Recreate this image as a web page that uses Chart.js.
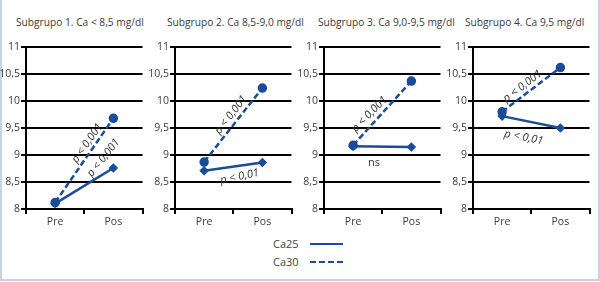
<!DOCTYPE html>
<html>
<head>
<meta charset="utf-8">
<script src="https://cdn.jsdelivr.net/npm/chart.js@4"></script>
<style>
  body { margin: 0; background: #fff; }
  #wrap { position: relative; width: 600px; height: 282px; overflow: hidden; font-family: "Open Sans", sans-serif; }
  #frame { position: absolute; left: 0; top: 0; width: 596px; height: 279px; border-left: 2px solid #c3d3ea; border-right: 2px solid #c3d3ea; border-bottom: 2px solid #c3d3ea; }
  .panel { position: absolute; top: 0; }
  .ttl { position: absolute; top: 14px; line-height: 16px; font-size: 10.2px; color: #3a3a3a; white-space: nowrap; }
  .leg { position: absolute; left: 273px; font-size: 11px; color: #444; }
  .leg span { position: absolute; left: 37px; top: 7px; width: 33px; height: 0; border-top: 2.5px solid #1a4c9c; }
  .leg span.dash { border-top-style: dashed; }
</style>
</head>
<body>
<div id="wrap">
  <div id="frame"></div>
  <div id="titles"></div>
  <canvas id="p0" class="panel" width="149" height="236" style="left:0px"></canvas>
  <canvas id="p1" class="panel" width="149" height="236" style="left:149px"></canvas>
  <canvas id="p2" class="panel" width="149" height="236" style="left:298px"></canvas>
  <canvas id="p3" class="panel" width="149" height="236" style="left:447px"></canvas>
  <div class="leg" style="top:236px">Ca25<span></span></div>
  <div class="leg" style="top:254px">Ca30<span class="dash"></span></div>
</div>
<script>
// Data
const categories = ["Pre", "Pos"];
const panelTitles = [
    "Subgrupo 1. Ca < 8,5 mg/dl",
    "Subgrupo 2. Ca 8,5-9,0 mg/dl",
    "Subgrupo 3. Ca 9,0-9,5 mg/dl",
    "Subgrupo 4. Ca 9,5 mg/dl"
];
const seriesNames = ["Ca25", "Ca30"];
const ca25 = [[8.10, 8.76], [8.71, 8.86], [9.16, 9.15], [9.72, 9.50]];
const ca30 = [[8.12, 9.68], [8.87, 10.24], [9.18, 10.37], [9.80, 10.62]];
const yMin = 8, yMax = 11, yStep = 0.5;

// significance labels per panel (text + which series it refers to)
const pTexts = [
    [["p < 0,001", 1], ["p < 0,001", 0]],
    [["p < 0,001", 1], ["p < 0,01", 0]],
    [["p < 0,001", 1], ["ns", 0]],
    [["p < 0,001", 1], ["p < 0,01", 0]]
];
// placement of those labels: fraction along the line, vertical px offset, rotation in degrees
const pPlace = [
    [{ t: 0.55, dy: -13, angle: -55 }, { t: 0.83, dy: -16, angle: -51 }],
    [{ t: 0.46, dy: -13, angle: -52 }, { t: 0.61, dy: 11, angle: -12 }],
    [{ t: 0.28, dy: -13, angle: -45 }, { t: 0.36, dy: 16, angle: 0, upright: true }],
    [{ t: 0.35, dy: -10, angle: -37 }, { t: 0.37, dy: 17, angle: 11 }]
];

const BLUE = "#1a4c9c";
const PANEL_W = 149;

// rotated p-value notes placed along the series lines
const pNotes = {
    id: "pNotes",
    afterDatasetsDraw(chart, args, opts) {
        const { ctx, scales: { x, y } } = chart;
        (opts.items || []).forEach(n => {
            const d = chart.data.datasets[n.series].data;
            const x0 = x.getPixelForValue(0), x1 = x.getPixelForValue(1);
            const y0 = y.getPixelForValue(d[0]), y1 = y.getPixelForValue(d[1]);
            const px = x0 + (x1 - x0) * n.t;
            const py = y0 + (y1 - y0) * n.t + n.dy;
            ctx.save();
            ctx.translate(px, py);
            ctx.rotate(n.angle * Math.PI / 180);
            ctx.font = (n.upright ? "" : "italic ") + '11px "Open Sans"';
            ctx.fillStyle = "#333";
            ctx.textAlign = "center";
            ctx.textBaseline = "middle";
            ctx.fillText(n.text, 0, 0);
            ctx.restore();
        });
    }
};

function makePanel(i) {
    const ctx = document.getElementById("p" + i).getContext("2d");
    const notes = pTexts[i].map((p, k) => Object.assign({ text: p[0], series: p[1] }, pPlace[i][k]));
    return new Chart(ctx, {
        type: "line",
        data: {
            labels: categories,
            datasets: [
                { label: seriesNames[0], data: ca25[i], borderColor: BLUE, backgroundColor: BLUE,
                  borderWidth: 2.5, pointStyle: "rectRot", pointRadius: 3, tension: 0 },
                { label: seriesNames[1], data: ca30[i], borderColor: BLUE, backgroundColor: BLUE,
                  borderWidth: 2.5, borderDash: [6, 3], pointStyle: "circle", pointRadius: 3.5, tension: 0 }
            ]
        },
        options: {
            responsive: false,
            animation: false,
            devicePixelRatio: 1,
            layout: { padding: { top: 47, right: 6, left: 0, bottom: 0 } },
            plugins: {
                legend: { display: false },
                tooltip: { enabled: false },
                title: { display: false },
                pNotes: { items: notes }
            },
            scales: {
                x: {
                    offset: true,
                    grid: { display: true, drawOnChartArea: false, drawTicks: true, tickLength: 5, color: "#000", lineWidth: 2, offset: true },
                    border: { color: "#000", width: 2 },
                    ticks: { color: "#3a3a3a", font: { family: "Open Sans", size: 10.5 }, padding: 2 },
                    afterFit(s) { s.height = 27; }
                },
                y: {
                    min: yMin, max: yMax,
                    grid: { color: "#000", lineWidth: 2, tickLength: 5 },
                    border: { color: "#000", width: 2 },
                    ticks: {
                        stepSize: yStep, color: "#3a3a3a", font: { family: "Open Sans", size: 10.5 }, padding: 1,
                        callback: v => String(v).replace(".", ",")
                    },
                    afterFit(s) { s.width = 26; }
                }
            }
        },
        plugins: [pNotes]
    });
}

// panel titles as page text, so they can run past their panel like in the original
const titleBox = document.getElementById("titles");
const titleLeft = [16, 167, 318, 465];
panelTitles.forEach((t, i) => {
    const el = document.createElement("div");
    el.className = "ttl";
    el.style.left = titleLeft[i] + "px";
    el.textContent = t;
    titleBox.appendChild(el);
});

[0, 1, 2, 3].forEach(makePanel);
</script>
</body>
</html>
